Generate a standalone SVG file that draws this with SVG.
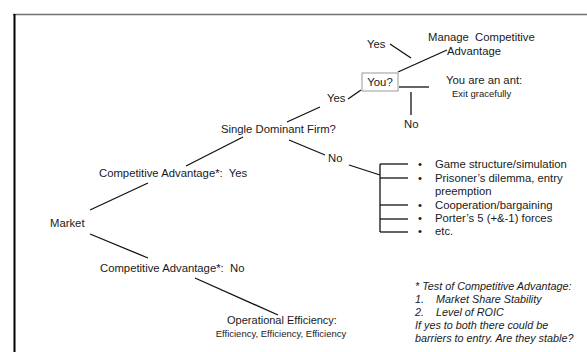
<svg xmlns="http://www.w3.org/2000/svg" width="587" height="352" viewBox="0 0 587 352">
<style>
text{font-family:"Liberation Sans",Arial,sans-serif;font-size:11.3px;fill:#1a1a1a;white-space:pre}
.s{font-size:9.5px}
.m{font-size:11px}
.i{font-style:italic;font-size:10.8px}
.c{stroke:#111;stroke-width:1.3;fill:none}
</style>
<rect width="587" height="352" fill="#fff"/>
<g id="frame">
<line x1="13" y1="14.5" x2="587" y2="14.5" stroke="#707070" stroke-width="1.5"/>
<line x1="14.5" y1="14" x2="14.5" y2="352" stroke="#000" stroke-width="2"/>
</g>
<g id="connectors" class="c">
<line x1="390" y1="44" x2="411" y2="58"/>
<line x1="398" y1="72" x2="447" y2="50"/>
<line x1="399" y1="87" x2="429" y2="87"/>
<line x1="411" y1="92" x2="411" y2="115"/>
<line x1="348" y1="99" x2="361" y2="90"/>
<line x1="287" y1="122" x2="320" y2="107"/>
<line x1="289" y1="140" x2="325" y2="155"/>
<line x1="349" y1="165" x2="380" y2="175"/>
<line x1="380" y1="164" x2="380" y2="232"/>
<line x1="380" y1="164" x2="408" y2="164"/>
<line x1="380" y1="178" x2="408" y2="178"/>
<line x1="380" y1="205" x2="408" y2="205"/>
<line x1="380" y1="219" x2="408" y2="219"/>
<line x1="380" y1="232" x2="408" y2="232"/>
<line x1="90" y1="210" x2="148" y2="183"/>
<line x1="186" y1="166" x2="243" y2="137"/>
<line x1="90" y1="234" x2="148" y2="258"/>
<line x1="195" y1="278" x2="278" y2="315"/>
</g>
<g id="manage"><text x="428" y="41">Manage  Competitive</text><text x="447" y="55">Advantage</text></g>
<g id="yes-top"><text x="367" y="48">Yes</text></g>
<g id="you"><rect x="362" y="73" width="36" height="18" fill="#fff" stroke="#9a9a9a" stroke-width="1"/><text x="380" y="86" text-anchor="middle">You?</text></g>
<g id="ant"><text x="446" y="84">You are an ant:</text><text class="s" x="452" y="97">Exit gracefully</text></g>
<g id="no-top"><text x="404" y="128">No</text></g>
<g id="yes-mid"><text x="327" y="102">Yes</text></g>
<g id="sdf"><text x="221" y="133">Single Dominant Firm?</text></g>
<g id="no-mid"><text x="328" y="162">No</text></g>
<g id="list">
<text x="418" y="168">•</text><text x="435" y="168">Game structure/simulation</text>
<text x="418" y="182">•</text><text x="435" y="182">Prisoner’s dilemma, entry</text>
<text x="435" y="195">preemption</text>
<text x="418" y="209">•</text><text x="435" y="209">Cooperation/bargaining</text>
<text x="418" y="222">•</text><text x="435" y="222">Porter’s 5 (+&amp;-1) forces</text>
<text x="418" y="235">•</text><text x="435" y="235">etc.</text>
</g>
<g id="ca-yes"><text x="99" y="177">Competitive Advantage*:  Yes</text></g>
<g id="market"><text x="50" y="227">Market</text></g>
<g id="ca-no"><text x="100" y="272">Competitive Advantage*:  No</text></g>
<g id="opeff"><text class="m" x="282" y="324" text-anchor="middle">Operational Efficiency:</text><text class="s" x="281" y="337" text-anchor="middle">Efficiency, Efficiency, Efficiency</text></g>
<g id="note">
<text class="i" x="415" y="290">* Test of Competitive Advantage:</text>
<text class="i" x="415" y="303">1.</text><text class="i" x="436" y="303">Market Share Stability</text>
<text class="i" x="415" y="316">2.</text><text class="i" x="436" y="316">Level of ROIC</text>
<text class="i" x="415" y="329">If yes to both there could be</text>
<text class="i" x="415" y="342">barriers to entry. Are they stable?</text>
</g>
</svg>
